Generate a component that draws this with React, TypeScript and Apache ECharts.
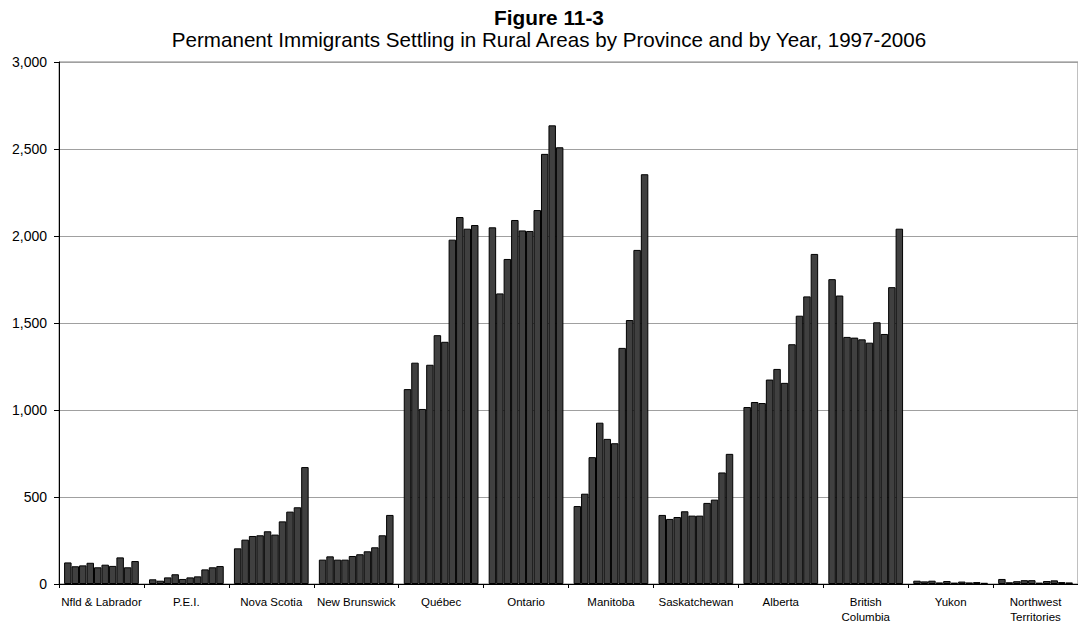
import React, { useEffect, useRef } from "react";
import * as echarts from "echarts";

// Provinces / territories along the category axis
const provinces = [
  "Nfld & Labrador",
  "P.E.I.",
  "Nova Scotia",
  "New Brunswick",
  "Québec",
  "Ontario",
  "Manitoba",
  "Saskatchewan",
  "Alberta",
  "British\nColumbia",
  "Yukon",
  "Northwest\nTerritories",
];

const years = ["1997", "1998", "1999", "2000", "2001", "2002", "2003", "2004", "2005", "2006"];

// Immigrants settling in rural areas, one value per year 1997-2006
const nfld = [124, 102, 107, 122, 96, 111, 104, 153, 96, 132];
const pei = [27, 19, 38, 56, 29, 38, 44, 84, 96, 103];
const novaScotia = [205, 255, 276, 280, 303, 284, 360, 416, 441, 672];
const newBrunswick = [140, 159, 140, 140, 161, 171, 188, 211, 280, 397];
const quebec = [1120, 1272, 1006, 1260, 1430, 1392, 1979, 2109, 2042, 2063];
const ontario = [2050, 1670, 1868, 2092, 2032, 2029, 2149, 2472, 2636, 2510];
const manitoba = [448, 519, 729, 927, 834, 809, 1357, 1517, 1920, 2355];
const saskatchewan = [397, 374, 385, 418, 393, 393, 466, 485, 641, 748];
const alberta = [1017, 1046, 1040, 1175, 1236, 1156, 1378, 1542, 1653, 1897];
const britishColumbia = [1752, 1658, 1420, 1416, 1406, 1387, 1504, 1437, 1706, 2042];
const yukon = [19, 15, 19, 9, 17, 8, 14, 9, 11, 7];
const nwt = [29, 10, 16, 22, 22, 8, 17, 21, 11, 9];

const yTicks = { min: 0, max: 3000, interval: 500 };

const byProvince = [
  nfld, pei, novaScotia, newBrunswick, quebec, ontario,
  manitoba, saskatchewan, alberta, britishColumbia, yukon, nwt,
];

const FONT = "'Liberation Sans', Arial, Helvetica, sans-serif";

export default function App() {
  const ref = useRef<HTMLDivElement>(null);

  useEffect(() => {
    if (!ref.current) return;
    const chart = echarts.init(ref.current, undefined, { renderer: "svg" });

    const series = years.map((year, i) => ({
      name: year,
      type: "bar" as const,
      data: byProvince.map((vals) => vals[i]),
      barGap: "0%",
      barCategoryGap: "12%",
      itemStyle: { color: "#404040", borderColor: "#000", borderWidth: 1 },
    }));

    chart.setOption({
      animation: false,
      backgroundColor: "#fff",
      textStyle: { fontFamily: FONT },
      title: [
        {
          text: "Figure 11-3",
          left: 544,
          textAlign: "center",
          top: 2,
          textStyle: { fontFamily: FONT, fontSize: 20.8, fontWeight: "bold", color: "#000" },
        },
        {
          text: "Permanent Immigrants Settling in Rural Areas by Province and by Year, 1997-2006",
          left: 544,
          textAlign: "center",
          top: 24,
          textStyle: { fontFamily: FONT, fontSize: 20.6, fontWeight: "normal", color: "#000" },
        },
      ],
      grid: {
        left: 59,
        top: 62,
        width: 1027,
        height: 523,
        show: true,
        borderColor: "#808080",
        borderWidth: 1,
        backgroundColor: "transparent",
      },
      xAxis: {
        type: "category",
        data: provinces,
        axisLine: { lineStyle: { color: "#000", width: 1 } },
        axisTick: { show: true, length: 4, lineStyle: { color: "#000" } },
        axisLabel: {
          interval: 0,
          margin: 10,
          fontSize: 11.5,
          lineHeight: 15,
          color: "#000",
          fontFamily: FONT,
        },
      },
      yAxis: {
        type: "value",
        min: yTicks.min,
        max: yTicks.max,
        interval: yTicks.interval,
        axisLine: { show: true, lineStyle: { color: "#000", width: 1 } },
        axisTick: { show: true, length: 5, lineStyle: { color: "#000" } },
        axisLabel: {
          margin: 12,
          fontSize: 14,
          color: "#000",
          fontFamily: FONT,
          formatter: (v: number) => v.toLocaleString("en-US"),
        },
        splitLine: { show: true, lineStyle: { color: "#a0a0a0", width: 1 } },
      },
      series,
    });

    return () => chart.dispose();
  }, []);

  return (
    <div
      ref={ref}
      style={{ position: "absolute", left: 0, top: 0, width: 1078, height: 624 }}
    />
  );
}
